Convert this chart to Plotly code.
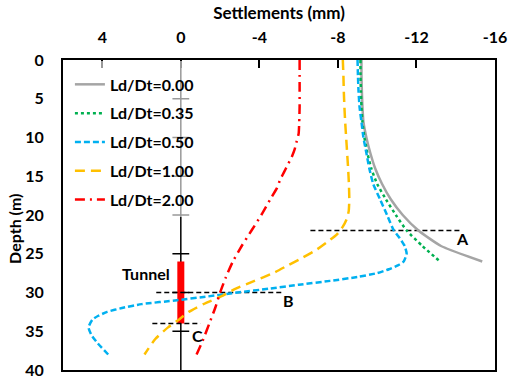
import plotly.graph_objects as go

# ---------------- data ----------------
depth_000 = [0, 2, 4, 6, 8, 10, 12, 14, 16, 18, 20, 22, 24, 26]
settle_000 = [-9.2, -9.2, -9.22, -9.25, -9.3, -9.45, -9.65, -9.9, -10.25, -10.7, -11.3, -12.1, -13.25, -15.35]

depth_035 = [0, 2, 4, 6, 8, 10, 12, 14, 16, 18, 20, 22, 24, 26]
settle_035 = [-9.15, -9.15, -9.17, -9.2, -9.25, -9.35, -9.5, -9.7, -10.0, -10.45, -10.95, -11.5, -12.3, -13.2]

depth_050 = [0, 2, 4, 6, 8, 10, 12, 14, 16, 18, 20, 22, 23, 24, 25, 26, 26.5, 27, 27.5, 28, 28.5,
             29, 29.5, 30, 30.5, 31, 31.5, 32, 32.5, 33, 33.5, 34.5, 35.5, 36.5, 38]
settle_050 = [-9.0, -9.02, -9.05, -9.1, -9.2, -9.3, -9.45, -9.6, -9.8, -10.15, -10.5, -10.85, -11.15, -11.4,
              -11.5, -11.35, -11.05, -10.6, -10.0, -9.0, -7.6, -6.0, -4.5, -2.9, -1.4, 0.2, 2.0, 3.0, 3.75,
              4.2, 4.5, 4.7, 4.55, 4.25, 3.7]

depth_100 = [0, 2, 4, 6, 8, 10, 12, 14, 16, 18, 19.5, 20.5, 21.5, 22.5, 23.5, 24.5, 25.5, 26.5, 27.5,
             28.5, 29.5, 30.5, 31.5, 32.5, 33.5, 34.5, 36, 38]
settle_100 = [-8.25, -8.28, -8.3, -8.33, -8.37, -8.42, -8.47, -8.52, -8.56, -8.58, -8.55, -8.45, -8.25,
              -7.95, -7.45, -6.9, -6.2, -5.45, -4.7, -3.75, -2.8, -2.05, -1.15, -0.4, 0.1, 0.65, 1.3, 1.85]

depth_200 = [0, 2, 4, 6, 8, 9.5, 10.5, 11.5, 12.5, 13.5, 14.5, 15.5, 16.5, 18, 20, 22, 24, 26, 28,
             30, 32, 34, 36, 38]
settle_200 = [-6.05, -6.05, -6.05, -6.05, -6.03, -6.0, -5.9, -5.8, -5.65, -5.45, -5.25, -5.05, -4.9,
              -4.55, -4.1, -3.6, -3.1, -2.65, -2.3, -2.0, -1.75, -1.45, -1.15, -0.8]

series_names = ["Ld/Dt=0.00", "Ld/Dt=0.35", "Ld/Dt=0.50", "Ld/Dt=1.00", "Ld/Dt=2.00"]

tunnel_depth = [26, 34]
axis_tick_depths = [5, 10, 15, 20, 25, 30, 35]

lineA_depth, lineA_x = 22, [-6.6, -14.25]
lineB_depth, lineB_x = 30, [1.25, -5.25]
lineC_depth, lineC_x = 34, [1.45, -1.0]
labels_abc = [("A", -14.35, 23.0), ("B", -5.5, 31.0), ("C", -0.85, 35.5)]
tunnel_label = ("Tunnel", 0.45, 27.5)

x_tickvals = [4, 0, -4, -8, -12, -16]
x_ticktext = ["4", "0", "-4", "-8", "-12", "-16"]
y_tickvals = [0, 5, 10, 15, 20, 25, 30, 35, 40]

# ---------------- styles ----------------
FONT = "Lato"
styles = [
    dict(color="#A5A5A5", width=2.5, dash="solid"),
    dict(color="#00B050", width=2.5, dash="dot"),
    dict(color="#00B0F0", width=2.5, dash="6px,3px"),
    dict(color="#FFC000", width=2.5, dash="10px,6px"),
    dict(color="#FF0000", width=2.5, dash="10px,5px,2px,5px"),
]


def bfont(size):
    return dict(family=FONT, size=size, color="black", weight="bold")


fig = go.Figure()

# vertical axis line at x = 0 with cross ticks
fig.add_trace(go.Scatter(x=[0, 0], y=[0, 40], mode="lines",
                         line=dict(color="black", width=1.5),
                         showlegend=False, hoverinfo="skip"))
fig.add_trace(go.Scatter(x=[0] * len(axis_tick_depths), y=axis_tick_depths, mode="markers",
                         marker=dict(symbol="line-ew", size=12,
                                     line=dict(color="black", width=1.5)),
                         showlegend=False, hoverinfo="skip"))

# tunnel
fig.add_trace(go.Scatter(x=[0, 0], y=tunnel_depth, mode="lines",
                         line=dict(color="#FF0000", width=7),
                         showlegend=False, hoverinfo="skip"))

# reference dashed lines
for d, xs in [(lineA_depth, lineA_x), (lineB_depth, lineB_x), (lineC_depth, lineC_x)]:
    fig.add_trace(go.Scatter(x=xs, y=[d, d], mode="lines",
                             line=dict(color="black", width=1.5, dash="5px,3px"),
                             showlegend=False, hoverinfo="skip"))

# settlement series
all_series = [(depth_000, settle_000), (depth_035, settle_035), (depth_050, settle_050),
              (depth_100, settle_100), (depth_200, settle_200)]
for i, ((d, s), name) in enumerate(zip(all_series, series_names)):
    fig.add_trace(go.Scatter(x=s, y=d, mode="lines", name=name,
                             legendgroup=f"g{i}",
                             line=dict(shape="spline", smoothing=0.5, **styles[i])))

pw = 515 - 63 - 13
ph = 387 - 60 - 8

annotations = []
for txt, x, y in labels_abc:
    annotations.append(dict(x=x, y=y, text=txt, showarrow=False, xref="x", yref="y",
                            font=bfont(16)))
annotations.append(dict(x=tunnel_label[1], y=tunnel_label[2], text=tunnel_label[0], showarrow=False,
                        xref="x", yref="y", xanchor="right", font=bfont(16)))
annotations.append(dict(x=(13 - 63) / pw, y=1 - (234 - 60) / ph, xref="paper", yref="paper",
                        xanchor="center", yanchor="middle",
                        text="Depth (m)", showarrow=False, textangle=-90, font=bfont(16)))

fig.update_layout(
    width=515, height=387,
    margin=dict(l=63, r=13, t=60, b=8),
    paper_bgcolor="white", plot_bgcolor="white",
    font=bfont(16),
    showlegend=True,
    legend=dict(x=0.016, y=0.997, xanchor="left", yanchor="top",
                bgcolor="rgba(255,255,255,0.6)", borderwidth=0,
                traceorder="grouped", tracegroupgap=5, itemwidth=30,
                title=dict(text=" ", font=dict(family=FONT, size=5)),
                font=bfont(16)),
    xaxis=dict(range=[6, -16], side="top", tickvals=x_tickvals, ticktext=x_ticktext,
               ticks="inside", ticklen=8, tickwidth=2, tickcolor="black",
               showline=True, mirror=True, linecolor="black", linewidth=2,
               showgrid=False, zeroline=False, ticklabelstandoff=9,
               tickfont=bfont(16),
               title=dict(text="Settlements (mm)", standoff=3, font=bfont(17))),
    yaxis=dict(range=[40, 0], tickvals=y_tickvals, ticks="",
               showline=True, mirror=True, linecolor="black", linewidth=2,
               showgrid=False, zeroline=False, ticklabelstandoff=14,
               tickfont=bfont(16)),
    annotations=annotations,
)

fig.write_html("out.html")
